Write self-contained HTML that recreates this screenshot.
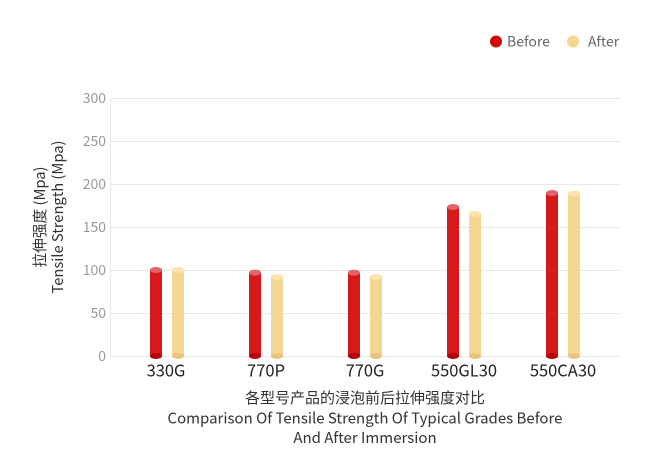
<!DOCTYPE html>
<html><head><meta charset="utf-8"><style>
html,body{margin:0;padding:0;background:#fff;}
svg{display:block;font-family:"Noto Sans CJK SC","Liberation Sans",sans-serif;}
</style></head><body>
<svg width="650" height="465" viewBox="0 0 650 465" xmlns="http://www.w3.org/2000/svg">
<g stroke="#e8e8e8" stroke-width="1">
<line x1="110" y1="98.5" x2="620" y2="98.5"/>
<line x1="110" y1="141.5" x2="620" y2="141.5"/>
<line x1="110" y1="184.5" x2="620" y2="184.5"/>
<line x1="110" y1="227.5" x2="620" y2="227.5"/>
<line x1="110" y1="270.5" x2="620" y2="270.5"/>
<line x1="110" y1="313.5" x2="620" y2="313.5"/>
<line x1="110" y1="356.5" x2="620" y2="356.5"/>
<line x1="110.5" y1="98" x2="110.5" y2="357"/>
</g>
<g fill="#999" font-size="14" text-anchor="end">
<text x="106" y="103">300</text>
<text x="106" y="146">250</text>
<text x="106" y="189">200</text>
<text x="106" y="232">150</text>
<text x="106" y="275">100</text>
<text x="106" y="318">50</text>
<text x="106" y="361">0</text>
</g>
<g fill="#333" font-size="14.7" text-anchor="middle">
<text transform="translate(45,217) rotate(-90)">拉伸强度 (Mpa)</text>
<text transform="translate(63,217) rotate(-90)">Tensile Strength (Mpa)</text>
</g>
<g id="bars">
<rect x="150" y="270" width="12" height="86" fill="#d7191c"/><ellipse cx="156" cy="356" rx="6" ry="3" fill="#b8000b"/><ellipse cx="156" cy="270" rx="6" ry="3" fill="#e06468"/>
<rect x="172" y="270" width="12" height="86" fill="#f5d592"/><ellipse cx="178" cy="356" rx="6" ry="3" fill="#e8c47c"/><ellipse cx="178" cy="270" rx="6" ry="3" fill="#fbe3ab"/>
<rect x="249" y="272.6" width="12" height="83.4" fill="#d7191c"/><ellipse cx="255" cy="356" rx="6" ry="3" fill="#b8000b"/><ellipse cx="255" cy="272.6" rx="6" ry="3" fill="#e06468"/>
<rect x="271" y="277" width="12" height="79" fill="#f5d592"/><ellipse cx="277" cy="356" rx="6" ry="3" fill="#e8c47c"/><ellipse cx="277" cy="277" rx="6" ry="3" fill="#fbe3ab"/>
<rect x="348" y="272.6" width="12" height="83.4" fill="#d7191c"/><ellipse cx="354" cy="356" rx="6" ry="3" fill="#b8000b"/><ellipse cx="354" cy="272.6" rx="6" ry="3" fill="#e06468"/>
<rect x="370" y="277" width="12" height="79" fill="#f5d592"/><ellipse cx="376" cy="356" rx="6" ry="3" fill="#e8c47c"/><ellipse cx="376" cy="277" rx="6" ry="3" fill="#fbe3ab"/>
<rect x="447" y="207" width="12" height="149" fill="#d7191c"/><ellipse cx="453" cy="356" rx="6" ry="3" fill="#b8000b"/><ellipse cx="453" cy="207" rx="6" ry="3" fill="#e06468"/>
<rect x="469" y="214" width="12" height="142" fill="#f5d592"/><ellipse cx="475" cy="356" rx="6" ry="3" fill="#e8c47c"/><ellipse cx="475" cy="214" rx="6" ry="3" fill="#fbe3ab"/>
<rect x="546" y="193" width="12" height="163" fill="#d7191c"/><ellipse cx="552" cy="356" rx="6" ry="3" fill="#b8000b"/><ellipse cx="552" cy="193" rx="6" ry="3" fill="#e06468"/>
<rect x="568" y="193.5" width="12" height="162.5" fill="#f5d592"/><ellipse cx="574" cy="356" rx="6" ry="3" fill="#e8c47c"/><ellipse cx="574" cy="193.5" rx="6" ry="3" fill="#fbe3ab"/>
</g>
<g fill="#222" font-size="16.5" text-anchor="middle">
<text x="166" y="376.5">330G</text>
<text x="266" y="376.5">770P</text>
<text x="365" y="376.5">770G</text>
<text x="464" y="376.5">550GL30</text>
<text x="563" y="376.5">550CA30</text>
</g>
<g fill="#333" font-size="15" text-anchor="middle">
<text x="365" y="403">各型号产品的浸泡前后拉伸强度对比</text>
<text x="365" y="423.5">Comparison Of Tensile Strength Of Typical Grades Before</text>
<text x="365" y="443">And After Immersion</text>
</g>
<g font-size="14" fill="#666">
<circle cx="496" cy="41.5" r="6" fill="#d10a0a"/>
<text x="507" y="46.5">Before</text>
<circle cx="573" cy="41.5" r="6" fill="#f5d592"/>
<text x="588" y="46.5">After</text>
</g>
</svg>
</body></html>
